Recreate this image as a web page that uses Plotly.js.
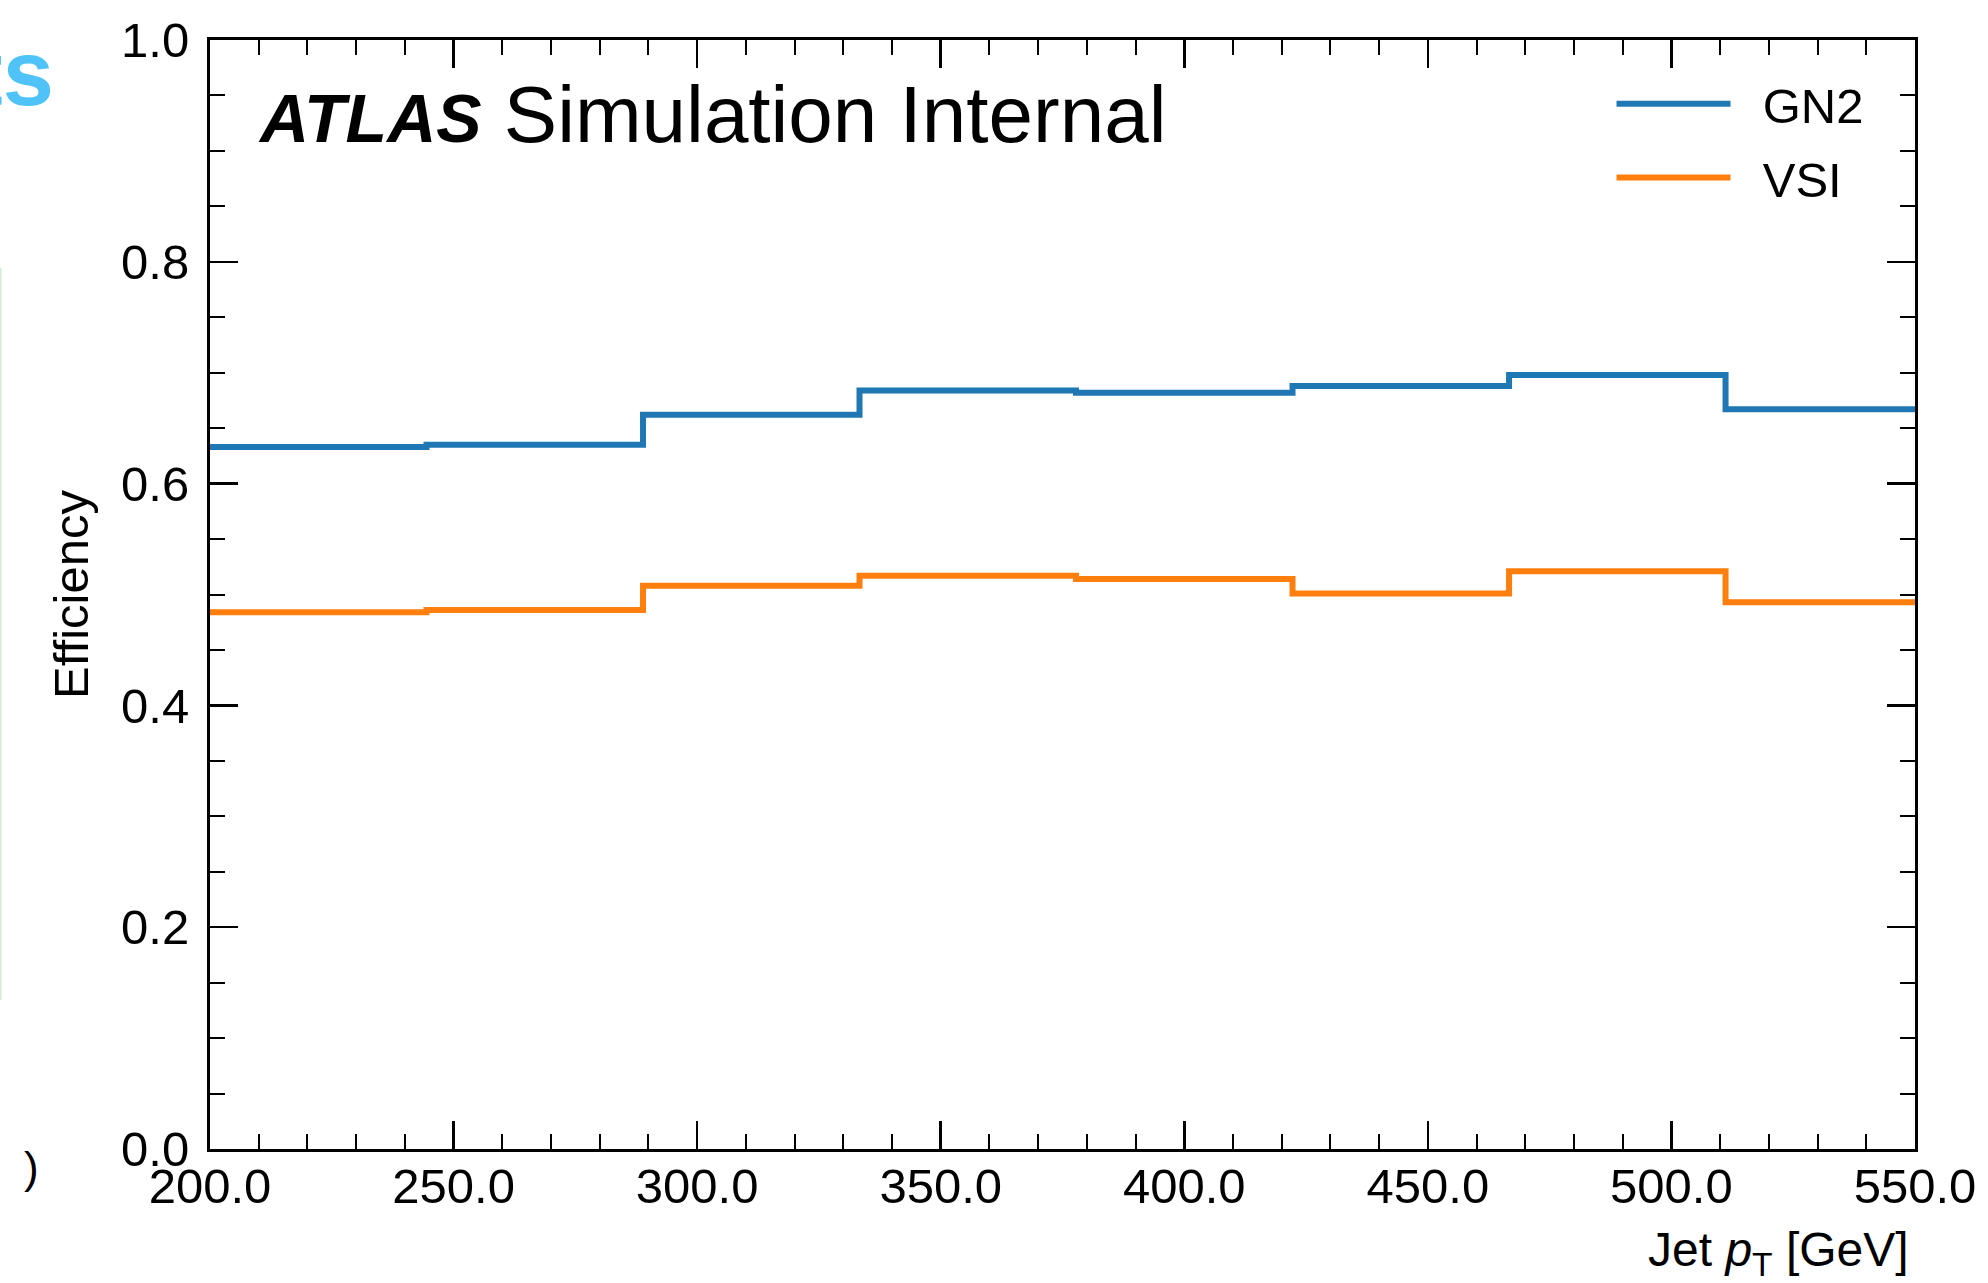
<!DOCTYPE html>
<html>
<head>
<meta charset="utf-8">
<script src="https://cdn.plot.ly/plotly-3.0.1.min.js"></script>
<style>
  html, body { margin: 0; padding: 0; background: #ffffff; }
  #chart { width: 1988px; height: 1283px; }
</style>
</head>
<body>
<div id="chart"></div>
<script>
// Bin edges of jet pT [GeV] (9 bins of 44.44 GeV from 200 to 600)
const binEdges = [200, 244.44, 288.89, 333.33, 377.78, 422.22, 466.67, 511.11, 555.56];
// Efficiency per bin
const gn2Eff = [0.633, 0.635, 0.662, 0.684, 0.682, 0.688, 0.698, 0.667];
const vsiEff = [0.484, 0.486, 0.508, 0.517, 0.514, 0.501, 0.521, 0.493];
const seriesNames = ["GN2", "VSI"];
const xTickVals = [200, 250, 300, 350, 400, 450, 500, 550];
const yTickVals = [0.0, 0.2, 0.4, 0.6, 0.8, 1.0];

const FONT = "'Liberation Sans', Arial, Helvetica, sans-serif";
const NB = "\u00A0\u00A0";

function stepY(vals) { return vals.concat([vals[vals.length - 1]]); }

const traces = [
  {
    x: binEdges, y: stepY(gn2Eff), name: NB + seriesNames[0], legendgroup: "g1",
    type: "scatter", mode: "lines", line: { shape: "hv", color: "#1f77b4", width: 6 },
    hoverinfo: "skip"
  },
  {
    x: binEdges, y: stepY(vsiEff), name: NB + seriesNames[1], legendgroup: "g2",
    type: "scatter", mode: "lines", line: { shape: "hv", color: "#ff7f0e", width: 6 },
    hoverinfo: "skip"
  }
];

const axisCommon = {
  showline: true, linecolor: "#000000", linewidth: 3, mirror: "allticks",
  ticks: "inside", ticklen: 28, tickwidth: 2.5, tickcolor: "#000000",
  showgrid: false, zeroline: false,
  tickfont: { family: FONT, size: 49, color: "#000000" },
  tickformat: ".1f"
};

const layout = {
  width: 1988, height: 1283,
  margin: { l: 210, r: 73, t: 40, b: 134, pad: 0 },
  paper_bgcolor: "#ffffff", plot_bgcolor: "#ffffff",
  font: { family: FONT, color: "#000000" },
  showlegend: true,
  legend: {
    x: 0.822, y: 0.977, xanchor: "left", yanchor: "top",
    bgcolor: "rgba(0,0,0,0)", borderwidth: 0,
    font: { family: FONT, size: 49, color: "#000000" },
    itemwidth: 114, tracegroupgap: 7, traceorder: "grouped"
  },
  xaxis: Object.assign({}, axisCommon, {
    range: [200, 550], tickvals: xTickVals, ticklabelstandoff: -8,
    minor: { ticks: "inside", ticklen: 15, tickwidth: 2, tickcolor: "#000000", dtick: 10, tick0: 200, showgrid: false }
  }),
  yaxis: Object.assign({}, axisCommon, {
    range: [0, 1.0], tickvals: yTickVals, ticklabelstandoff: 8,
    title: { text: "Efficiency", font: { family: FONT, size: 49, color: "#000000" }, standoff: 17 },
    minor: { ticks: "inside", ticklen: 15, tickwidth: 2, tickcolor: "#000000", dtick: 0.05, tick0: 0, showgrid: false }
  }),
  annotations: [
    {
      text: "<span style='font-size:68px'><b><i>ATLAS</i></b></span> Simulation Internal",
      xref: "paper", yref: "paper", x: 0.027, y: 0.933,
      xanchor: "left", yanchor: "middle", showarrow: false,
      font: { family: FONT, size: 80, color: "#000000" }
    },
    {
      text: "Jet <i>p</i><sub>T</sub> [GeV]",
      xref: "paper", yref: "paper", x: 1, y: 0,
      xanchor: "right", yanchor: "top", xshift: -4, yshift: -72, showarrow: false,
      font: { family: FONT, size: 48, color: "#000000" }
    },
    {
      text: "<b>ts</b>",
      xref: "paper", yref: "paper", x: 0, y: 1,
      xanchor: "left", yanchor: "top", xshift: -240, yshift: 20, showarrow: false,
      font: { family: FONT, size: 92, color: "#4fc3f7" }
    },
    {
      text: ")",
      xref: "paper", yref: "paper", x: 0, y: 0,
      xanchor: "left", yanchor: "middle", xshift: -188, yshift: -18, showarrow: false,
      font: { family: FONT, size: 44, color: "#000000" }
    }
  ],
  shapes: [
    {
      type: "line", xref: "paper", yref: "paper",
      x0: -210 / 1705, x1: -210 / 1705, y0: (1149 - 1000) / 1109, y1: (1149 - 268) / 1109,
      line: { color: "rgba(170,215,170,0.5)", width: 3 }
    }
  ]
};

Plotly.newPlot("chart", traces, layout, { staticPlot: true, displayModeBar: false });
</script>
</body>
</html>
